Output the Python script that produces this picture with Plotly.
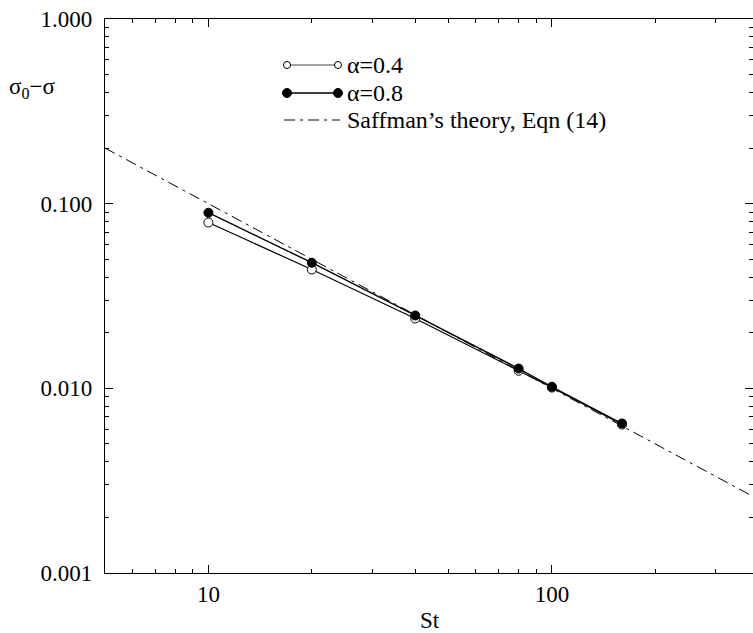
import numpy as np
import plotly.graph_objects as go

# ---- data ----
st_vals = [10, 20, 40, 80, 100, 160]
a04_vals = [0.0790, 0.0440, 0.0239, 0.01245, 0.0101, 0.00637]
a08_vals = [0.0893, 0.0479, 0.0248, 0.0128, 0.0102, 0.00645]
saff_st = [5, 400]
saff_vals = [0.2, 0.0025]

x_major = [10, 100]
x_major_text = ["10", "100"]
x_minor = [5, 6, 7, 8, 9, 20, 30, 40, 50, 60, 70, 80, 90, 200, 300]
y_major = [0.001, 0.01, 0.1, 1.0]
y_major_text = ["0.001", "0.010", "0.100", "1.000"]
y_minor = [k * 10.0 ** e for e in (-3, -2, -1) for k in range(2, 10)]

legend_labels = ["\u03b1=0.4", "\u03b1=0.8", "Saffman\u2019s theory, Eqn (14)"]

FONT = "Liberation Serif"
TICK_SIZE = 23
LEG_SIZE = 24
W, H = 753, 633
L, R, T, B = 105, 0, 19, 60
PW, PH = W - L - R, H - T - B

def px(x):
    return (x - L) / PW

def py(y):
    return (H - B - y) / PH

fig = go.Figure()
fig.add_trace(go.Scatter(x=saff_st, y=saff_vals, mode="lines",
                         line=dict(color="black", width=1, dash="11px,5px,3px,5px"),
                         showlegend=False))
fig.add_trace(go.Scatter(x=st_vals, y=a04_vals, mode="lines+markers",
                         line=dict(color="black", width=1.2),
                         marker=dict(symbol="circle", size=9, color="white",
                                     line=dict(color="black", width=1)),
                         showlegend=False))
fig.add_trace(go.Scatter(x=st_vals, y=a08_vals, mode="lines+markers",
                         line=dict(color="black", width=1.4),
                         marker=dict(symbol="circle", size=9, color="black",
                                     line=dict(color="black", width=1)),
                         showlegend=False))

axis_common = dict(type="log", showgrid=False, zeroline=False, showline=True,
                   linecolor="black", linewidth=1.3, mirror="ticks",
                   ticks="inside", ticklen=8, tickwidth=1, tickcolor="black",
                   tickfont=dict(family=FONT, size=TICK_SIZE, color="black"))

fig.update_xaxes(**axis_common, range=[np.log10(5), np.log10(385)],
                 tickmode="array", tickvals=x_major, ticktext=x_major_text,
                 minor=dict(tickmode="array", tickvals=x_minor, ticks="inside",
                            ticklen=4, tickcolor="black", showgrid=False))
fig.update_yaxes(**axis_common, range=[-3, 0],
                 tickmode="array", tickvals=y_major, ticktext=y_major_text,
                 ticklabelstandoff=7,
                 minor=dict(tickmode="array", tickvals=y_minor, ticks="inside",
                            ticklen=4, tickcolor="black", showgrid=False))

shapes = []
annotations = []
# legend item 1: open circles
y1 = 65
shapes.append(dict(type="line", xref="paper", yref="paper", x0=px(287), x1=px(338),
                   y0=py(y1), y1=py(y1), line=dict(color="#444444", width=1)))
for cx in (287, 338):
    r = 3.5
    shapes.append(dict(type="circle", xref="paper", yref="paper",
                       x0=px(cx - r), x1=px(cx + r), y0=py(y1 + r), y1=py(y1 - r),
                       fillcolor="white", line=dict(color="black", width=1)))
# legend item 2: filled circles
y2 = 93
shapes.append(dict(type="line", xref="paper", yref="paper", x0=px(287), x1=px(338),
                   y0=py(y2), y1=py(y2), line=dict(color="black", width=1.3)))
for cx in (287, 338):
    r = 4.5
    shapes.append(dict(type="circle", xref="paper", yref="paper",
                       x0=px(cx - r), x1=px(cx + r), y0=py(y2 + r), y1=py(y2 - r),
                       fillcolor="black", line=dict(color="black", width=1)))
# legend item 3: dash-dot
y3 = 120
shapes.append(dict(type="line", xref="paper", yref="paper", x0=px(284), x1=px(340),
                   y0=py(y3), y1=py(y3),
                   line=dict(color="black", width=1, dash="11px,5px,3px,5px")))
for lbl, yy in zip(legend_labels, (y1, y2, y3)):
    annotations.append(dict(text=lbl, xref="paper", yref="paper", x=px(345), y=py(yy),
                            xanchor="left", yanchor="middle", showarrow=False,
                            font=dict(family=FONT, size=LEG_SIZE, color="black")))

annotations.append(dict(text="\u03c3<sub>0</sub>\u2212\u03c3", xref="paper", yref="paper",
                        x=px(7), y=py(88), xanchor="left", yanchor="middle",
                        showarrow=False, font=dict(family=FONT, size=23, color="black")))
annotations.append(dict(text="St", xref="paper", yref="paper",
                        x=px(430), y=py(620), xanchor="center", yanchor="middle",
                        showarrow=False, font=dict(family=FONT, size=TICK_SIZE, color="black")))

fig.update_layout(width=W, height=H, margin=dict(l=L, r=R, t=T, b=B),
                  paper_bgcolor="white", plot_bgcolor="white",
                  shapes=shapes, annotations=annotations, showlegend=False)

fig.write_html("out.html")
